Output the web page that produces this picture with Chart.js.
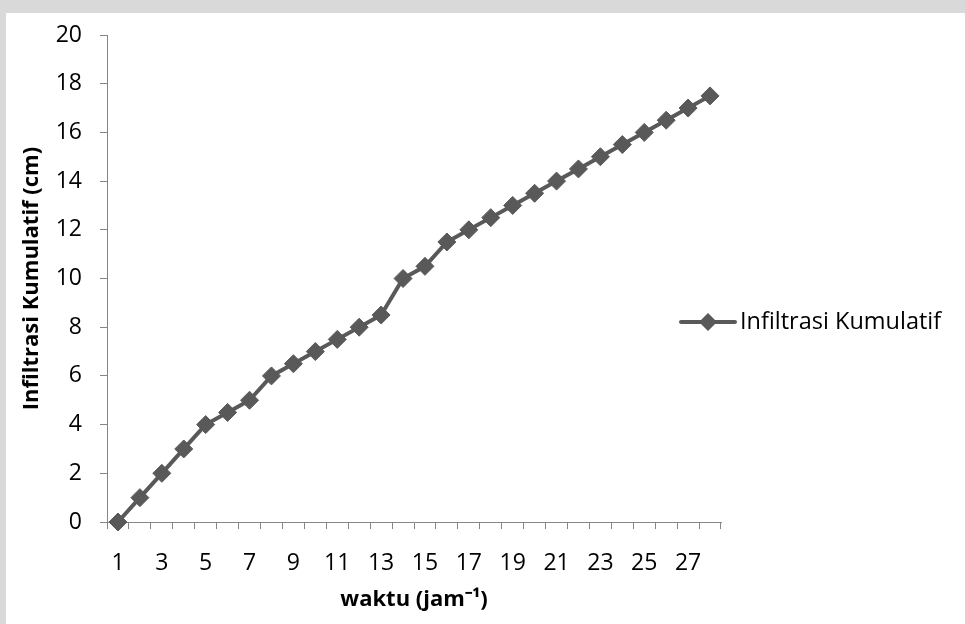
<!DOCTYPE html>
<html>
<head>
<meta charset="utf-8">
<script src="https://cdn.jsdelivr.net/npm/chart.js@4/dist/chart.umd.min.js"></script>
<style>
  html, body { margin: 0; padding: 0; background: #d9d9d9; width: 965px; height: 624px; overflow: hidden; }
  #wrap { position: absolute; left: 6px; top: 13px; width: 959px; height: 611px; background: #ffffff; }
  canvas { display: block; }
</style>
</head>
<body>
<div id="wrap"><canvas id="c" width="959" height="611"></canvas></div>
<script>
const categories = ['1','2','3','4','5','6','7','8','9','10','11','12','13','14','15','16','17','18','19','20','21','22','23','24','25','26','27','28'];
const infiltrasiKumulatif = [0,1,2,3,4,4.5,5,6,6.5,7,7.5,8,8.5,10,10.5,11.5,12,12.5,13,13.5,14,14.5,15,15.5,16,16.5,17,17.5];
const seriesName = 'Infiltrasi Kumulatif';
const yTitle = 'Infiltrasi Kumulatif (cm)';
const xTitle = 'waktu (jam\u207B\u00B9)';

const FONT = "'Open Sans', 'Liberation Sans', sans-serif";
const LINE = '#595959';
const AXIS = '#868686';

const legendPlugin = {
  id: 'sideLegend',
  afterDraw(chart) {
    const ctx = chart.ctx;
    const y = 309, x0 = 675, x1 = 729;
    ctx.save();
    ctx.strokeStyle = LINE; ctx.lineWidth = 4; ctx.lineCap = 'round';
    ctx.beginPath(); ctx.moveTo(x0, y); ctx.lineTo(x1, y); ctx.stroke();
    const cx = (x0 + x1) / 2, r = 9;
    ctx.fillStyle = LINE;
    ctx.beginPath(); ctx.moveTo(cx, y - r); ctx.lineTo(cx + r, y); ctx.lineTo(cx, y + r); ctx.lineTo(cx - r, y); ctx.closePath(); ctx.fill();
    ctx.fillStyle = '#000';
    ctx.font = '23.5px ' + FONT;
    ctx.textBaseline = 'middle'; ctx.textAlign = 'left';
    ctx.fillText(seriesName, 734, y);
    ctx.restore();
  }
};

new Chart(document.getElementById('c'), {
  type: 'line',
  data: {
    labels: categories,
    datasets: [{
      label: seriesName,
      data: infiltrasiKumulatif,
      borderColor: LINE,
      backgroundColor: LINE,
      borderWidth: 4,
      pointStyle: 'rectRot',
      pointRadius: 9,
      pointBorderWidth: 1,
      pointBorderColor: LINE,
      pointBackgroundColor: LINE,
      tension: 0,
      clip: false
    }]
  },
  options: {
    responsive: false,
    animation: false,
    devicePixelRatio: 1,
    layout: { padding: { top: 22, right: 244, bottom: 0, left: 0 } },
    plugins: { legend: { display: false }, tooltip: { enabled: false } },
    scales: {
      x: {
        type: 'category',
        offset: true,
        grid: { display: true, drawOnChartArea: false, offset: true, tickLength: 7, color: AXIS, lineWidth: 1 },
        border: { display: true, color: AXIS, width: 1 },
        ticks: {
          autoSkip: false, maxRotation: 0, minRotation: 0, padding: 21,
          color: '#000', font: { family: FONT, size: 23 },
          callback: function(v, i) { return i % 2 === 0 ? this.getLabelForValue(v) : ''; }
        },
        title: { display: true, text: xTitle, color: '#000', font: { family: FONT, size: 22, weight: 'bold' }, padding: { top: 0, bottom: 11 } },
        afterFit(s) { s.height = 102; s.paddingLeft = 0; s.paddingRight = 0; }
      },
      y: {
        min: 0, max: 20,
        grid: { display: true, drawOnChartArea: false, tickLength: 7, color: AXIS, lineWidth: 1 },
        border: { display: true, color: AXIS, width: 1 },
        ticks: { stepSize: 2, padding: 18, color: '#000', font: { family: FONT, size: 23 } },
        title: { display: true, text: yTitle, color: '#000', font: { family: FONT, size: 22, weight: 'bold' }, padding: { top: 13, bottom: 0 } },
        afterFit(s) { s.width = 101; s.paddingTop = 0; s.paddingBottom = 0; }
      }
    }
  },
  plugins: [legendPlugin]
});
</script>
</body>
</html>
